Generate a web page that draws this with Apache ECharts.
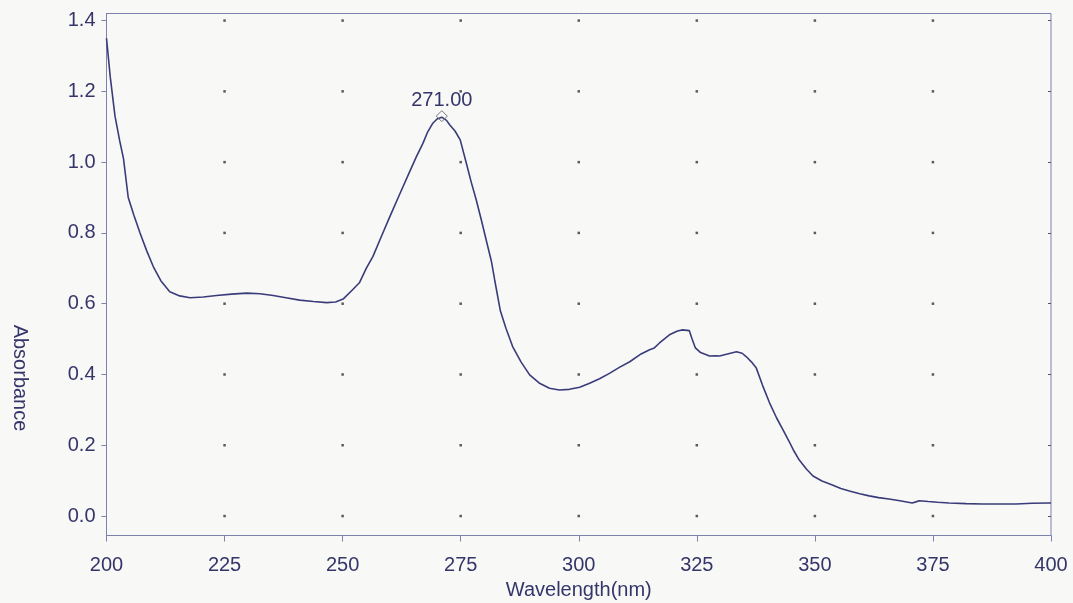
<!DOCTYPE html>
<html>
<head>
<meta charset="utf-8">
<script src="https://cdn.jsdelivr.net/npm/echarts@6/dist/echarts.min.js"></script>
<style>
html,body{margin:0;padding:0;background:#f8f8f7;}
#c{width:1073px;height:603px;}
</style>
</head>
<body>
<div id="c"></div>
<script>
// Spectrum data
var wavelengths = [200,200.8,201.8,202.8,203.6,204.6,205.8,207.1,208.5,209.9,211.5,213.4,215.5,217.7,220.5,223.3,226.5,229.7,232.5,235.3,238,240.9,243.8,246.6,248.5,250.1,252,253.6,255,256.4,258.2,260,262.1,264.2,265.6,267,268,269.1,270,271,272,272.7,273.8,274.9,276.2,277.2,278.3,279.4,280.4,281.5,282.2,283.4,284.6,286,287.8,289.6,291.6,293.8,295.9,298,300.2,302.3,304.4,306.5,308.6,310.8,313.2,315,316,317.1,319.2,320.9,322,323.4,324,324.7,325.8,327.7,329,329.8,331.5,333.4,334.6,335.5,336.6,337.6,338.9,340.4,341.9,343.2,344.5,345.6,346.7,348.2,349.6,351.5,353.7,355.5,357.3,359.5,361.5,363.5,365.7,368,370.6,371.4,372.1,374,376,378.4,382,385.4,389,392.6,396,399.6,400];
var absorbance = [1.35,1.24,1.13,1.06,1.01,0.90,0.85,0.80,0.75,0.705,0.665,0.634,0.622,0.617,0.619,0.623,0.627,0.630,0.628,0.623,0.617,0.610,0.606,0.603,0.605,0.613,0.638,0.660,0.70,0.733,0.79,0.846,0.91,0.973,1.015,1.053,1.085,1.11,1.122,1.127,1.118,1.105,1.088,1.063,0.997,0.945,0.893,0.835,0.78,0.72,0.667,0.58,0.53,0.479,0.435,0.399,0.376,0.361,0.356,0.358,0.364,0.375,0.388,0.403,0.420,0.436,0.458,0.47,0.475,0.489,0.512,0.523,0.526,0.524,0.50,0.475,0.462,0.452,0.453,0.452,0.458,0.464,0.46,0.45,0.435,0.418,0.37,0.32,0.277,0.245,0.212,0.183,0.158,0.133,0.113,0.099,0.088,0.078,0.071,0.063,0.057,0.052,0.048,0.043,0.037,0.040,0.043,0.041,0.039,0.037,0.035,0.034,0.034,0.034,0.036,0.037,0.037];
var xTicks = [200,225,250,275,300,325,350,375,400];
var yTicks = [0.0,0.2,0.4,0.6,0.8,1.0,1.2,1.4];
var peakWavelength = 271;
var peakAbsorbance = 1.13;
var peakLabel = '271.00';

var lineData = wavelengths.map(function(w,i){return [w, absorbance[i]];});
var dotData = [];
xTicks.forEach(function(x){
  if (x === xTicks[0] || x === xTicks[xTicks.length-1]) return;
  yTicks.forEach(function(y){ dotData.push([x,y]); });
});

var textColor = '#35356a';
var axisColor = '#7c82ad';
var font = '"Liberation Sans", Arial, sans-serif';

var chart = echarts.init(document.getElementById('c'));
chart.setOption({
  backgroundColor: '#f8f8f7',
  animation: false,
  grid: {left: 106.5, right: 22, top: 13.5, bottom: 67.5, show: true, borderColor: axisColor, borderWidth: 1,
    containLabel: false, outerBoundsMode: 'none'},
  xAxis: [{
    type: 'value', min: 200, max: 400, interval: 25,
    name: 'Wavelength(nm)', nameLocation: 'middle', nameGap: 45,
    nameTextStyle: {color: textColor, fontSize: 20, fontFamily: font},
    axisLine: {show: true, onZero: false, lineStyle: {color: axisColor}},
    axisTick: {show: true, length: 6, lineStyle: {color: axisColor}},
    axisLabel: {color: textColor, fontSize: 20, fontFamily: font, margin: 20},
    splitLine: {show: false}
  }],
  yAxis: [{
    type: 'value', min: -0.055, max: 1.42,
    axisLine: {show: true, onZero: false, lineStyle: {color: axisColor}},
    axisTick: {show: true, length: 5, lineStyle: {color: axisColor}, customValues: yTicks},
    axisLabel: {color: textColor, fontSize: 20, fontFamily: font, margin: 11,
      customValues: yTicks, formatter: function(v){return v.toFixed(1);}},
    splitLine: {show: false}
  }, {
    type: 'value', min: -0.055, max: 1.42, position: 'right',
    axisLine: {show: false, onZero: false},
    axisTick: {show: true, inside: true, length: 3, lineStyle: {color: '#555'}, customValues: yTicks},
    axisLabel: {show: false, customValues: yTicks},
    splitLine: {show: false}
  }],
  graphic: [{
    type: 'text', x: 20, y: 378, rotation: -Math.PI/2,
    style: {text: 'Absorbance', fill: textColor, font: '20px ' + font, textAlign: 'center', textVerticalAlign: 'middle'}
  }],
  series: [{
    type: 'scatter', data: dotData, symbol: 'rect', symbolSize: 2.5,
    itemStyle: {color: '#333'}, silent: true, z: 1
  }, {
    type: 'line', data: lineData, showSymbol: false, smooth: false,
    lineStyle: {color: '#3a3c7a', width: 1.6}, z: 3,
    markPoint: {
      symbol: 'diamond', symbolSize: [11, 11],
      itemStyle: {color: 'rgba(0,0,0,0)', borderColor: '#777', borderWidth: 1},
      label: {show: true, position: 'top', distance: 0, formatter: peakLabel,
        color: textColor, fontSize: 20, fontFamily: font},
      data: [{coord: [peakWavelength, peakAbsorbance]}]
    }
  }]
});
</script>
</body>
</html>
